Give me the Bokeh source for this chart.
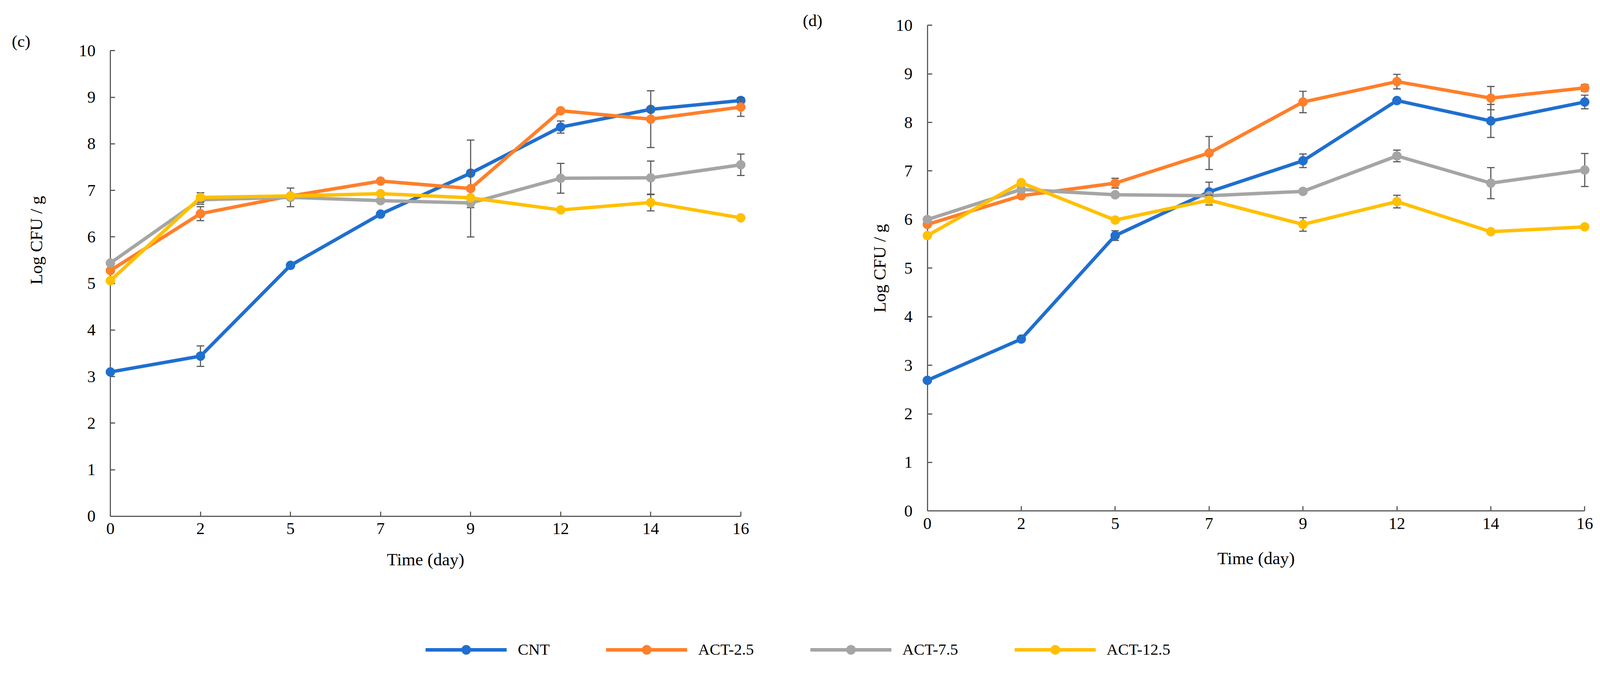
import numpy as np
from bokeh.plotting import figure
from bokeh.models import Range1d, FixedTicker, Label, Legend, LegendItem, LinearAxis
from bokeh.embed import file_html
from bokeh.resources import INLINE

# ---------------- data ----------------
days = [0, 2, 5, 7, 9, 12, 14, 16]
series_names = ["CNT", "ACT-2.5", "ACT-7.5", "ACT-12.5"]
series_colors = ["#1F6FCF", "#FF7F2A", "#A5A5A5", "#FFC000"]

# panel (c)
c_cnt = [3.10, 3.44, 5.39, 6.49, 7.37, 8.36, 8.74, 8.93]
c_act25 = [5.28, 6.50, 6.88, 7.20, 7.04, 8.71, 8.53, 8.79]
c_act75 = [5.44, 6.80, 6.85, 6.78, 6.73, 7.26, 7.27, 7.55]
c_act125 = [5.06, 6.85, 6.88, 6.93, 6.84, 6.58, 6.74, 6.41]
c_cnt_err = [0.03, 0.22, 0.05, 0.03, 0.05, 0.13, 0.05, 0.05]
c_act25_err = [0.05, 0.15, 0.05, 0.03, 1.04, 0.05, 0.61, 0.20]
c_act75_err = [0.05, 0.10, 0.20, 0.03, 0.10, 0.32, 0.36, 0.23]
c_act125_err = [0.03, 0.10, 0.03, 0.03, 0.03, 0.03, 0.18, 0.03]

# panel (d)
d_cnt = [2.69, 3.54, 5.67, 6.57, 7.21, 8.45, 8.03, 8.42]
d_act25 = [5.90, 6.49, 6.75, 7.37, 8.42, 8.84, 8.50, 8.71]
d_act75 = [6.00, 6.62, 6.51, 6.49, 6.58, 7.31, 6.75, 7.02]
d_act125 = [5.67, 6.76, 5.99, 6.40, 5.90, 6.37, 5.75, 5.85]
d_cnt_err = [0.05, 0.05, 0.10, 0.20, 0.14, 0.05, 0.34, 0.14]
d_act25_err = [0.05, 0.05, 0.10, 0.34, 0.22, 0.15, 0.24, 0.07]
d_act75_err = [0.05, 0.05, 0.05, 0.05, 0.05, 0.12, 0.32, 0.34]
d_act125_err = [0.03, 0.05, 0.05, 0.10, 0.14, 0.13, 0.03, 0.03]

y_ticks = [0, 1, 2, 3, 4, 5, 6, 7, 8, 9, 10]

# ---------------- style / layout ----------------
FONT = "Liberation Serif"
AXIS_COLOR = "#595959"
ERR_COLOR = "#595959"
Z = 1.028                      # observed page-to-picture scale


def px(v):
    return v / Z


def fs(v):
    return f"{px(v):.1f}px"


W, H = 4100, 1700
idx = list(range(len(days)))

# picture-pixel boxes of each plotting area: (left, right, bottom(value 0), top(value 10))
BOX_C = tuple(px(v) for v in (290, 1949, 1359, 133))
BOX_D = tuple(px(v) for v in (2440, 4170, 1345, 66))

p = figure(width=W, height=H, x_range=Range1d(0, W), y_range=Range1d(0, H),
           x_axis_type=None, y_axis_type=None, toolbar_location=None,
           output_backend="svg", min_border=0)
p.outline_line_color = None
p.background_fill_color = "white"
p.border_fill_color = "white"


def ranges_for(box):
    left, right, bottom, top = box
    sx = (right - left) / (idx[-1] - idx[0])
    xr = Range1d(idx[0] - left / sx, idx[0] + (W - left) / sx)
    sy = (bottom - top) / (y_ticks[-1] - y_ticks[0])
    yr = Range1d(y_ticks[0] - (H - bottom) / sy, y_ticks[0] + bottom / sy)
    return xr, yr


cx, cy = ranges_for(BOX_C)
dx, dy = ranges_for(BOX_D)
p.extra_x_ranges = {"cx": cx, "dx": dx}
p.extra_y_ranges = {"cy": cy, "dy": dy}


def style_axis(ax):
    ax.axis_line_color = AXIS_COLOR
    ax.axis_line_width = px(3)
    ax.major_tick_line_color = AXIS_COLOR
    ax.major_tick_line_width = px(3)
    ax.major_tick_in = int(round(px(12)))
    ax.major_tick_out = 0
    ax.minor_tick_line_color = None
    ax.major_label_text_font = FONT
    ax.major_label_text_font_size = fs(44)
    ax.major_label_text_color = "#000000"
    ax.level = "underlay"


def add_chart(xname, yname, values, errors):
    xa = LinearAxis(x_range_name=xname, y_range_name=yname, fixed_location=0,
                    bounds=(idx[0], idx[-1]), ticker=FixedTicker(ticks=idx),
                    major_label_overrides={i: str(d) for i, d in enumerate(days)})
    style_axis(xa)
    xa.major_label_standoff = int(round(px(19)))
    p.add_layout(xa, "below")
    ya = LinearAxis(x_range_name=xname, y_range_name=yname, fixed_location=0,
                    bounds=(y_ticks[0], y_ticks[-1]), ticker=FixedTicker(ticks=y_ticks))
    style_axis(ya)
    ya.major_label_standoff = int(round(px(39)))
    p.add_layout(ya, "left")

    rends = []
    for vals, errs, col in zip(values, errors, series_colors):
        v = np.array(vals)
        e = np.array(errs)
        up = v + e
        lo = v - e
        kw = dict(x_range_name=xname, y_range_name=yname)
        p.segment(x0=idx, y0=lo, x1=idx, y1=up, line_color=ERR_COLOR, line_width=px(3), **kw)
        p.scatter(idx, up, marker="dash", size=px(20), line_color=ERR_COLOR, line_width=px(3), **kw)
        p.scatter(idx, lo, marker="dash", size=px(20), line_color=ERR_COLOR, line_width=px(3), **kw)
        lr = p.line(idx, v, line_color=col, line_width=px(9), line_join="round", **kw)
        sr = p.scatter(idx, v, marker="circle", size=px(24), fill_color=col, line_color=col, **kw)
        rends.append((lr, sr))
    return rends


rc = add_chart("cx", "cy", [c_cnt, c_act25, c_act75, c_act125],
               [c_cnt_err, c_act25_err, c_act75_err, c_act125_err])
add_chart("dx", "dy", [d_cnt, d_act25, d_act75, d_act125],
          [d_cnt_err, d_act25_err, d_act75_err, d_act125_err])


def add_text(text, rx, ry, size=46, angle=0.0, baseline="middle"):
    p.add_layout(Label(x=px(rx), y=H - px(ry), text=text, angle=angle, text_align="center",
                       text_baseline=baseline, text_font=FONT, text_font_size=fs(size),
                       text_color="#000000"))


# panel letters
add_text("(c)", 55, 108, size=44)
add_text("(d)", 2138, 53, size=44)
# axis titles
add_text("Log CFU / g", 95, 632, angle=np.pi / 2)
add_text("Log CFU / g", 2315, 706, angle=np.pi / 2)
add_text("Time (day)", (290 + 1949) / 2, 1473, baseline="alphabetic")
add_text("Time (day)", (2440 + 4170) / 2, 1470, baseline="alphabetic")

# shared legend
items = [LegendItem(label=name, renderers=[lr, sr]) for name, (lr, sr) in zip(series_names, rc)]
gh = px(62)
legend = Legend(items=items, orientation="horizontal",
                location=(px(1120), H - px(1710) - gh / 2),
                glyph_width=int(round(px(214))), glyph_height=int(round(gh)),
                label_height=int(round(gh)), label_standoff=int(round(px(29))),
                spacing=int(round(px(148))), padding=0, margin=0, border_line_color=None,
                background_fill_alpha=0, label_text_font=FONT,
                label_text_font_size=fs(42), label_text_color="#000000")
p.add_layout(legend, "center")

open("out.html", "w").write(file_html(p, INLINE))
